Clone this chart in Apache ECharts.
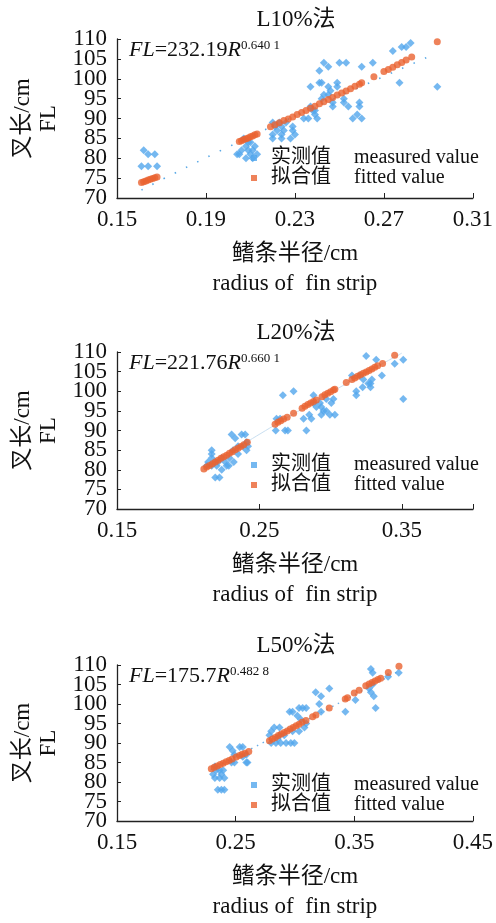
<!DOCTYPE html>
<html>
<head>
    <meta charset="utf-8">
    <title>鳍条半径与叉长</title>
    <script src="https://cdn.jsdelivr.net/npm/echarts@6/dist/echarts.min.js"></script>
    <style>
        html, body { margin: 0; padding: 0; background: #fff; }
        #chart1 { width: 496px; height: 923px; }
    </style>
</head>
<body>
<div id="chart1"></div>
<script type="text/javascript">
    // 三种方法的标题和公式
    var panelTitles = ['L10%法', 'L20%法', 'L50%法'];
    var formulaA = ['232.19', '221.76', '175.7'];
    var formulaB = ['0.640 1', '0.660 1', '0.482 8'];

    // 刻度（y 轴标签分两组，每组间隔 10，避免被自动隐藏）
    var yTicks = [70, 110, 5];
    var yLabelsA = [70, 80, 90, 100, 110];
    var yLabelsB = [75, 85, 95, 105];
    var xRange = [[0.15, 0.31], [0.15, 0.40], [0.15, 0.45]];
    var xLabels = [[0.15, 0.19, 0.23, 0.27, 0.31], [0.15, 0.25, 0.35], [0.15, 0.25, 0.35, 0.45]];
    var xTickVals = [[0.15, 0.19, 0.23, 0.27, 0.31], [0.15, 0.25, 0.35, 0.40], [0.15, 0.25, 0.35, 0.45]];

    // L10% 实测值 / 拟合值 / 趋势线
    var measured1 = [
        [0.162,82],[0.164,81],[0.167,81],[0.161,78],[0.164,78],[0.168,78],
        [0.204,81],[0.207,85],[0.209,84],[0.210,84],[0.212,83],[0.208,83],[0.206,82],[0.209,82],[0.211,82],[0.205,81],[0.210,81],[0.213,81],[0.208,80],[0.211,80],
        [0.220,89],[0.223,89],[0.226,89],[0.221,88],[0.224,88],[0.222,87],[0.225,87],[0.229,87],[0.220,86],[0.224,86],[0.220,85],[0.224,85],[0.228,85],[0.230,86],[0.229,88],
        [0.234,90],[0.236,90],[0.239,91],[0.240,90],[0.237,93],[0.238,92],[0.239,92],[0.237,98],[0.241,102],[0.243,104],[0.245,103],[0.241,99],[0.242,99],[0.243,96],[0.242,95],
        [0.245,98],[0.246,97],[0.245,96],[0.249,99],[0.249,98],[0.250,104],[0.253,104],[0.247,94],[0.247,93],[0.252,94],[0.254,93],[0.252,95],[0.256,90],[0.258,91],[0.260,90],
        [0.259,94],[0.259,93],[0.260,103],[0.265,104],[0.277,99],[0.274,107],[0.278,108],[0.280,108],[0.282,109],[0.294,98]
    ];
    var fitted1 = [
        [0.161,73.9],[0.162,74.1],[0.163,74.3],[0.164,74.5],[0.165,74.7],[0.166,74.9],[0.167,75.1],[0.168,75.3],
        [0.205,84.2],[0.206,84.4],[0.207,84.7],[0.208,84.9],[0.209,85.1],[0.210,85.4],[0.211,85.6],[0.212,85.9],[0.213,86.1],
        [0.219,87.9],[0.221,88.4],[0.223,88.9],[0.225,89.5],[0.227,89.9],[0.229,90.4],[0.231,91.0],[0.233,91.5],[0.235,92.0],[0.237,92.6],[0.239,93.1],
        [0.241,93.7],[0.243,94.2],[0.245,94.8],[0.247,95.3],[0.249,95.9],[0.251,96.4],[0.253,96.9],[0.255,97.5],[0.257,98.1],[0.259,98.6],[0.260,99.0],
        [0.2655,100.5],[0.270,101.8],[0.272,102.3],[0.274,102.9],[0.276,103.5],[0.278,104.1],[0.280,104.7],[0.2825,105.5],[0.294,109.3]
    ];
    var trend1 = [[0.161,72.0],[0.198,82.3],[0.240,93.1],[0.292,106.0]];

    // L20%
    var measured2 = [
        [0.2165,85],[0.2165,84],[0.2165,83],[0.214,82],[0.219,82],[0.219,78],[0.222,78],[0.221,82],[0.226,82],[0.229,83],[0.227,81],[0.2235,80],[0.2165,81],[0.213,81],[0.220,81],
        [0.2305,89],[0.233,88],[0.235,86],[0.2375,89],[0.240,89],[0.241,87],[0.2385,86],[0.242,86],[0.2315,85],[0.235,84],[0.241,85],[0.232,82],[0.2285,81],[0.2235,83],
        [0.262,93],[0.2645,93],[0.2615,90],[0.268,90],[0.270,90],[0.2665,99],[0.274,100],[0.281,93],[0.283,90],[0.285,94],[0.2865,93],[0.288,99],[0.2935,96],[0.295,95],
        [0.2935,94],[0.2995,94],[0.303,94],[0.297,95],[0.297,98],[0.302,98],[0.3005,97],[0.288,97],[0.290,96],[0.2925,97],
        [0.315,104],[0.318,100],[0.318,99],[0.323,103],[0.328,102],[0.328,101],[0.336,104],[0.332,108],[0.325,109],[0.345,107],[0.351,108],[0.351,98],[0.3205,104],[0.3225,101],[0.3265,102],[0.329,103]
    ];
    var fitted2 = [
        [0.211,80.2],[0.213,80.7],[0.215,81.1],[0.217,81.5],[0.219,82.0],[0.221,82.4],[0.223,82.9],[0.225,83.3],[0.227,83.7],[0.229,84.2],[0.231,84.6],[0.233,85.1],[0.235,85.5],[0.237,85.9],[0.239,86.4],[0.2415,87.0],
        [0.261,91.6],[0.263,92.1],[0.265,92.5],[0.267,92.9],[0.2695,93.4],[0.274,94.4],
        [0.280,95.7],[0.282,96.2],[0.284,96.6],[0.286,97.0],[0.288,97.4],[0.290,97.8],
        [0.294,98.6],[0.296,99.1],[0.298,99.5],[0.300,99.9],[0.302,100.3],[0.303,100.5],
        [0.311,102.2],[0.315,103.0],[0.317,103.4],[0.319,103.8],[0.321,104.2],[0.323,104.6],[0.325,104.9],[0.327,105.3],[0.329,105.7],[0.331,106.1],[0.333,106.5],[0.3365,107.1],[0.345,109.2]
    ];
    var trend2 = [[0.210,80.1],[0.280,95.5],[0.350,109.7]];

    // L50%
    var measured3 = [
        [0.231,82],[0.2325,84],[0.2325,81],[0.2365,81],[0.2405,81],[0.2335,83],[0.2395,83],[0.238,82],[0.2365,83],[0.238,78],[0.2405,78],[0.235,78],
        [0.245,89],[0.2475,88],[0.2465,85],[0.249,85],[0.249,87],[0.256,89],[0.2535,89],[0.259,87],[0.259,85],[0.256,86.5],[0.260,85],
        [0.280,93],[0.2825,94],[0.287,94],[0.2785,92],[0.287,92],[0.280,90],[0.284,90],[0.288,90],[0.2925,90],[0.2965,90],[0.2995,90],[0.2955,98],[0.298,98],
        [0.3035,99],[0.3065,99],[0.3095,99],[0.302,97],[0.305,96],[0.298,93],[0.3035,93],[0.3095,95],[0.308,94],[0.3175,103],[0.322,102],[0.3205,100],[0.329,104],[0.322,98],[0.2855,91],[0.291,92],
        [0.3425,98],[0.351,101],[0.364,109],[0.3655,108],[0.3625,104],[0.364,103],[0.3665,102],[0.3655,105],[0.368,99],[0.3785,107],[0.3875,108]
    ];
    var fitted3 = [
        [0.2295,83.4],[0.232,83.8],[0.2345,84.1],[0.237,84.5],[0.2395,84.8],[0.242,85.2],[0.2445,85.5],[0.247,85.9],[0.2505,86.4],
        [0.2533,86.8],[0.2555,87.1],[0.258,87.4],[0.2611,87.8],
        [0.2785,90.6],[0.281,91.0],[0.2835,91.4],[0.286,91.9],[0.2885,92.3],[0.291,92.7],[0.2935,93.1],[0.296,93.6],[0.2985,94.0],[0.301,94.4],[0.3035,94.8],[0.306,95.3],[0.3093,95.8],
        [0.3149,96.7],[0.3177,97.2],[0.3289,99.0],[0.3424,101.3],[0.3443,101.6],[0.350,102.8],[0.3541,103.5],
        [0.3597,104.7],[0.3625,105.1],[0.365,105.5],[0.3675,105.9],[0.370,106.3],[0.3723,106.6],[0.3787,108.1],[0.3877,109.7]
    ];
    var trend3 = [[0.229,83.2],[0.310,95.9],[0.388,108.5]];

    var measuredAll = [measured1, measured2, measured3];
    var fittedAll = [fitted1, fitted2, fitted3];
    var trendAll = [trend1, trend2, trend3];

    var FONT = "'Liberation Serif','Noto Sans CJK SC',serif";
    var BLUE = '#52a6ec';
    var ORANGE = '#ea6331';
    var gridTops = [39, 352, 665];
    var gridHeights = [159, 157, 158];
    var gridWidths = [358, 356, 357];
    var legendTops = [148, 455, 775];
    var trendStyles = [
        {color: '#5aa9e6', width: 1.6, type: [1.5, 11]},
        {color: '#c9dff1', width: 1, type: 'solid'},
        {color: '#6aafe6', width: 1.4, type: [1.5, 5]}
    ];

    var myChart1 = echarts.init(document.getElementById('chart1'));

    function labelStyle(extra) {
        return echarts.util.extend({
            fontFamily: FONT, fontSize: 23, color: '#111', margin: 10,
            showMinLabel: true, showMaxLabel: true, hideOverlap: false
        }, extra);
    }

    var grids = [], xAxes = [], yAxes = [], yExtra = [], series = [], legends = [], graphics = [];
    for (var i = 0; i < 3; i++) {
        grids.push({left: 117, top: gridTops[i], width: gridWidths[i], height: gridHeights[i]});
        xAxes.push({
            type: 'value', gridIndex: i, min: xRange[i][0], max: xRange[i][1],
            name: '鳍条半径/cm\nradius of  fin strip', nameLocation: 'middle', nameGap: 41,
            nameTextStyle: {fontFamily: FONT, fontSize: 23, lineHeight: 30, color: '#111'},
            axisLine: {lineStyle: {color: '#222', width: 1.3}},
            axisTick: {inside: true, length: 5, customValues: xTickVals[i], lineStyle: {color: '#222'}},
            axisLabel: labelStyle({
                customValues: xLabels[i],
                formatter: function (v) { return v.toFixed(2); }
            }),
            splitLine: {show: false}
        });
        yAxes.push({
            type: 'value', gridIndex: i, min: yTicks[0], max: yTicks[1], interval: yTicks[2],
            name: '叉长/cm\nFL', nameLocation: 'middle', nameRotate: 90, nameGap: 54,
            nameTextStyle: {fontFamily: FONT, fontSize: 23, lineHeight: 26, color: '#111'},
            axisLine: {show: true, lineStyle: {color: '#222', width: 1.3}},
            axisTick: {show: true, inside: true, length: 4, lineStyle: {color: '#222'}},
            axisLabel: labelStyle({customValues: yLabelsA}),
            splitLine: {show: false}
        });
        yExtra.push({
            type: 'value', gridIndex: i, min: yTicks[0], max: yTicks[1], interval: yTicks[2],
            position: 'left',
            axisLine: {show: false}, axisTick: {show: false},
            axisLabel: labelStyle({customValues: yLabelsB}),
            splitLine: {show: false}
        });
        series.push({
            type: 'line', xAxisIndex: i, yAxisIndex: i, data: trendAll[i], smooth: true,
            symbol: 'none', silent: true, z: 1, lineStyle: trendStyles[i]
        });
        series.push({
            name: '实测值', type: 'scatter', xAxisIndex: i, yAxisIndex: i, data: measuredAll[i],
            symbol: 'diamond', symbolSize: 8, itemStyle: {color: BLUE}, z: 2
        });
        series.push({
            name: '拟合值', type: 'scatter', xAxisIndex: i, yAxisIndex: i, data: fittedAll[i],
            symbol: 'circle', symbolSize: 7, itemStyle: {color: ORANGE}, z: 3
        });
        legends.push({
            orient: 'vertical', left: 251, top: legendTops[i], padding: 0, itemGap: 0,
            itemWidth: 6, itemHeight: 6,
            data: [{name: '实测值', icon: 'rect'}, {name: '拟合值', icon: 'rect'}],
            formatter: function (name) {
                return name === '实测值' ? '{a|实测值}{b|measured value}' : '{a|拟合值}{b|fitted value}';
            },
            textStyle: {
                fontFamily: FONT, fontSize: 20, color: '#111',
                rich: {
                    a: {fontFamily: FONT, fontSize: 20, lineHeight: 23, width: 83, padding: [0, 0, 0, 9], color: '#111'},
                    b: {fontFamily: FONT, fontSize: 20, lineHeight: 23, color: '#111'}
                }
            }
        });
        graphics.push({
            type: 'text', x: 296, y: gridTops[i] - 19,
            style: {text: panelTitles[i], font: '23px ' + FONT, fill: '#111', align: 'center', verticalAlign: 'middle'}
        });
        graphics.push({
            type: 'text', x: 129, y: gridTops[i] + 11,
            style: {
                text: '{i|FL}{n|=' + formulaA[i] + '}{i|R}{s|' + formulaB[i] + '}',
                verticalAlign: 'middle', fill: '#111',
                rich: {
                    i: {fontFamily: FONT, fontSize: 22, fontStyle: 'italic', fill: '#111'},
                    n: {fontFamily: FONT, fontSize: 22, fill: '#111'},
                    s: {fontFamily: FONT, fontSize: 13, verticalAlign: 'top', fill: '#111'}
                }
            }
        });
    }

    myChart1.setOption({
        animation: false,
        backgroundColor: '#fff',
        grid: grids,
        xAxis: xAxes,
        yAxis: yAxes.concat(yExtra),
        legend: legends,
        graphic: graphics,
        series: series
    });
</script>
</body>
</html>
